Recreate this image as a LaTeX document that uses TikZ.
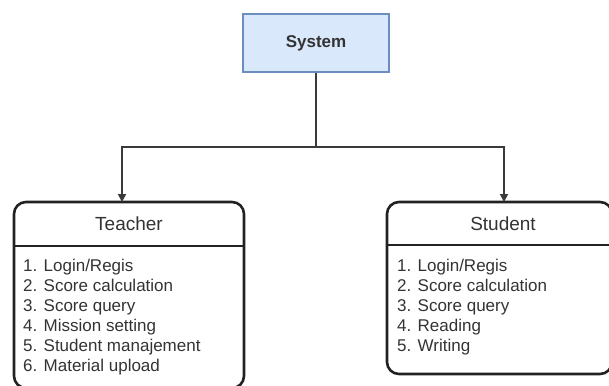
\documentclass[tikz,border=0pt]{standalone}
\usepackage{fontspec}
\setmainfont{Liberation Sans}
\usetikzlibrary{arrows.meta}
\definecolor{sysfill}{HTML}{DAE8FC}
\definecolor{sysdraw}{HTML}{6C8EBF}
\definecolor{txt}{HTML}{333333}
\definecolor{edge}{HTML}{222222}
\definecolor{conncol}{HTML}{3A3A3A}
\tikzset{
  sysbox/.style={draw=sysdraw, fill=sysfill, line width=1.4pt, minimum width=146pt, minimum height=58pt, inner sep=0pt, font=\fontsize{17}{20}\selectfont\bfseries, text=txt},
  rolebox/.style={draw=edge, line width=2.6pt, rounded corners=12pt, inner sep=0pt},
  divider/.style={draw=edge, line width=2.6pt},
  head/.style={font=\fontsize{19}{22}\selectfont, text=txt, inner sep=0pt},
  item/.style={font=\fontsize{17}{20}\selectfont, text=txt, inner sep=0pt, anchor=base west},
  conn/.style={draw=conncol, line width=1.8pt, -{Triangle[length=8pt,width=8pt]}}
}
\begin{document}
\begin{tikzpicture}[x=1pt,y=-1pt]
\useasboundingbox (0,0) rectangle (609,385);
\clip (0,0) rectangle (609,385);
% system
\node[sysbox] (sys) at (316,43) {System};
% teacher box
\node[rolebox, minimum width=230pt, minimum height=186pt] (teacher) at (129,295) {};
\draw[divider] (teacher.west |- 0,246) -- (teacher.east |- 0,246);
\node[head] (theader) at (129,224) {Teacher};
\foreach \t [count=\i] in {1. Login/Regis, 2. Score calculation, 3. Score query, 4. Mission setting, 5. Student manajement, 6. Material upload}{
  \node[item] (ti\i) at (23,{271+20*(\i-1)}) {\t};
}
% student box
\node[rolebox, minimum width=225pt, minimum height=172pt] (student) at (499.5,288) {};
\draw[divider] (student.west |- 0,245) -- (student.east |- 0,245);
\node[head] (sheader) at (503,224) {Student};
\foreach \t [count=\i] in {1. Login/Regis, 2. Score calculation, 3. Score query, 4. Reading, 5. Writing}{
  \node[item] (si\i) at (397,{271+20*(\i-1)}) {\t};
}
% connectors
\coordinate (split) at (316,147);
\coordinate (tin) at (122,202);
\coordinate (sin) at (504,202);
\draw[conn] (sys.south) -- (split) -| (tin);
\draw[conn] (split) -| (sin);
\end{tikzpicture}
\end{document}
